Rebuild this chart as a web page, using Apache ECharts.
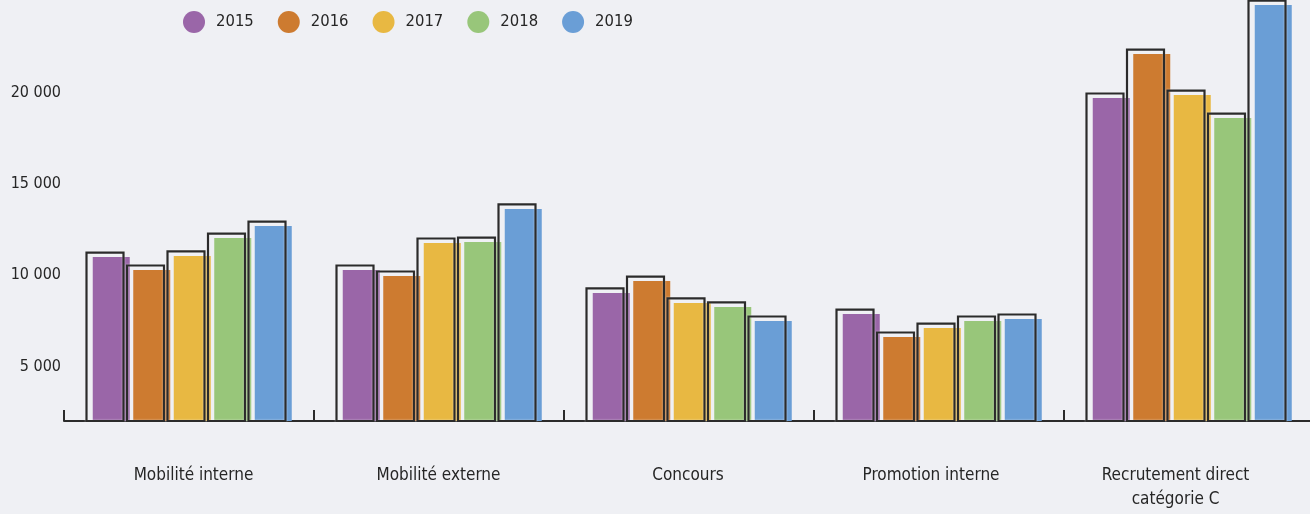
<!DOCTYPE html>
<html>
<head>
<meta charset="utf-8">
<script src="https://cdn.jsdelivr.net/npm/echarts@6/dist/echarts.min.js"></script>
<style>
html,body{margin:0;padding:0;background:#eff0f4;}
#chart{width:1310px;height:514px;}
</style>
</head>
<body>
<div id="chart"></div>
<script>
var categories = ['Mobilité interne', 'Mobilité externe', 'Concours', 'Promotion interne', 'Recrutement direct\ncatégorie C'];
var years = ['2015', '2016', '2017', '2018', '2019'];
var v2015 = [11000, 10290, 9030, 7870, 19730];
var v2016 = [10290, 9960, 9680, 6610, 22140];
var v2017 = [11060, 11770, 8480, 7100, 19890];
var v2018 = [12040, 11820, 8260, 7490, 18630];
var v2019 = [12700, 13640, 7490, 7600, 24830];
var yTickLabels = [5000, 10000, 15000, 20000];
var seriesValues = [v2015, v2016, v2017, v2018, v2019];
var colors = ['#9a66a8', '#cd7b30', '#e8b842', '#98c67a', '#6a9ed6'];
var yMin = 2000, yMax = 25000;
var FONT = '"DejaVu Sans Condensed", "Liberation Sans Narrow", sans-serif';
var TXT = '#262626';

function makeSeries(k) {
  var vals = seriesValues[k];
  return {
    type: 'custom',
    name: years[k],
    data: vals.map(function (v, i) { return [i, v]; }),
    encode: { x: 0, y: 1 },
    renderItem: function (params, api) {
      var cat = api.value(0), val = api.value(1);
      var top = api.coord([cat, val]);
      var base = api.coord([cat, yMin]);
      var band = api.size([1, 0])[0];
      var step = band * 0.162, w = band * 0.148;
      var cx = top[0] + band * 0.013 + (k - 2) * step;
      var h = base[1] - top[1];
      var ox = band * 0.025, oy = 4.5;
      return {
        type: 'group',
        children: [
          { type: 'rect', shape: { x: cx - w / 2, y: top[1], width: w, height: h },
            style: { fill: colors[k] } },
          { type: 'rect', z2: 10,
            shape: { x: cx - w / 2 - ox, y: top[1] - oy, width: w, height: h + oy },
            style: { fill: 'none', stroke: '#2b2b2b', lineWidth: 2.2,
                     shadowBlur: 2, shadowColor: 'rgba(255,255,255,0.6)' } }
        ]
      };
    }
  };
}

// small per-label horizontal nudges (padding) to match label placement
var labelPad = [[0, 0, 0, 9], [0, 1, 0, 0], [0, 2, 0, 0], [0, 16, 0, 0], [0, 27, 0, 0]];
var rich = {};
labelPad.forEach(function (p, i) {
  rich['c' + i] = { fontFamily: FONT, fontSize: 17, color: TXT, lineHeight: 24, padding: p };
});

var chart = echarts.init(document.getElementById('chart'));
chart.setOption({
  backgroundColor: '#eff0f4',
  color: colors,
  animation: false,
  legend: {
    left: 178, top: 6,
    icon: 'circle', itemWidth: 22, itemHeight: 22, itemGap: 24,
    data: years,
    textStyle: { fontFamily: FONT, fontSize: 16.5, color: TXT, padding: [0, 0, 0, 6] }
  },
  grid: { left: 64, right: -4, top: 2, bottom: 93, containLabel: false, outerBoundsMode: 'none' },
  xAxis: {
    type: 'category',
    data: categories,
    boundaryGap: true,
    axisLine: { show: true, lineStyle: { color: '#2b2b2b', width: 2 } },
    axisTick: { show: true, inside: true, length: 11, lineStyle: { color: '#2b2b2b', width: 2 } },
    axisLabel: {
      margin: 43, fontFamily: FONT, fontSize: 17, color: TXT, lineHeight: 24,
      formatter: function (v, i) {
        return v.split('\n').map(function (s) { return '{c' + i + '|' + s + '}'; }).join('\n');
      },
      rich: rich
    }
  },
  yAxis: {
    type: 'value',
    min: yMin, max: yMax, interval: 1000,
    axisLine: { show: false },
    axisTick: { show: false },
    splitLine: { show: false },
    axisLabel: {
      margin: 3, fontFamily: FONT, fontSize: 16, color: TXT,
      formatter: function (v) {
        if (yTickLabels.indexOf(v) < 0) return '';
        return String(v).replace(/\B(?=(\d{3})+(?!\d))/g, ' ');
      }
    }
  },
  series: years.map(function (y, k) { return makeSeries(k); })
});
</script>
</body>
</html>
